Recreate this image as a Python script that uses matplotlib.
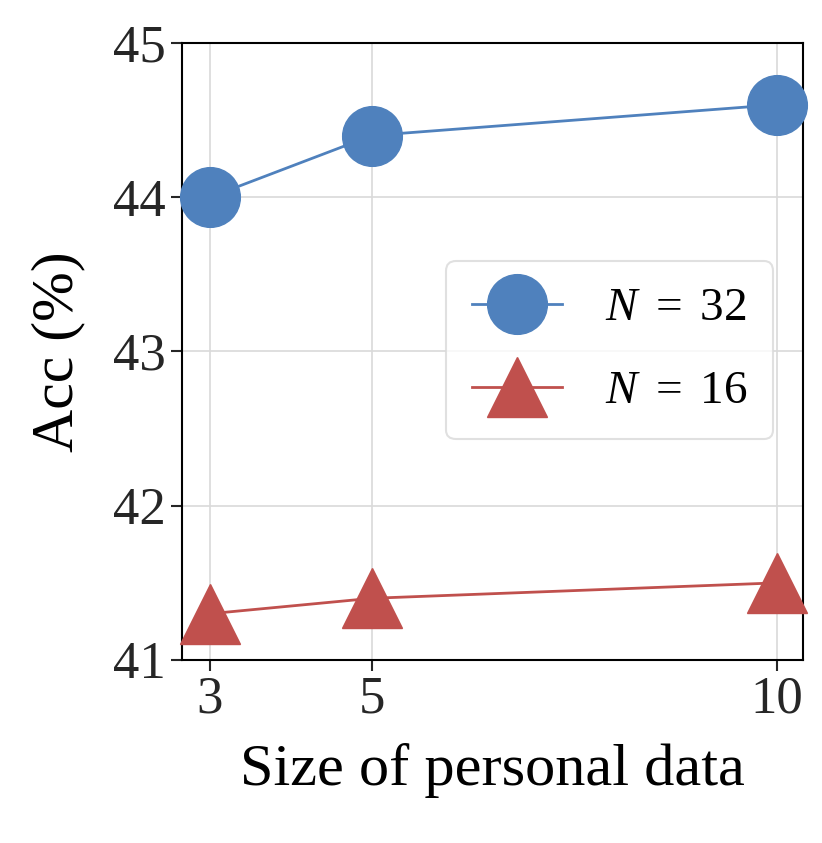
import matplotlib
matplotlib.use("Agg")
import matplotlib.pyplot as plt

# datos
tamanos = [3, 5, 10]
acc_n32 = [44.0, 44.4, 44.6]
acc_n16 = [41.3, 41.4, 41.5]
etiquetas = [r"$N\ =\ 32$", r"$N\ =\ 16$"]

plt.rcParams["font.family"] = ["Liberation Serif", "DejaVu Serif"]
plt.rcParams["mathtext.fontset"] = "custom"
plt.rcParams["mathtext.it"] = "Liberation Serif:italic"
plt.rcParams["mathtext.rm"] = "Liberation Serif"

fig = plt.figure(figsize=(8.22, 8.43), dpi=100)
ax = fig.add_axes([0.2214, 0.2171, 0.7555, 0.7319])

ax.plot(tamanos, acc_n32, color="#4f81bd", marker="o", markersize=43,
        linewidth=2, label=etiquetas[0], zorder=3, clip_on=False)
ax.plot(tamanos, acc_n16, color="#c0504d", marker="^", markersize=43,
        linewidth=2, label=etiquetas[1], zorder=3, clip_on=False)

ax.set_xlim(2.655, 10.32)
ax.set_ylim(41, 45)
ax.set_xticks(tamanos)
ax.set_yticks([41, 42, 43, 44, 45])
ax.grid(True, color="#d9d9d9", linewidth=1.2)
ax.set_axisbelow(True)

for s in ax.spines.values():
    s.set_color("black")
    s.set_linewidth(1.5)
ax.tick_params(axis="both", labelsize=38, length=8, width=1.5,
               colors="#262626")

ax.set_xlabel("Size of personal data", fontsize=43.5, labelpad=14)
ax.set_ylabel("Acc (%)", fontsize=43, labelpad=20)

leg = ax.legend(loc="center right", bbox_to_anchor=(0.952, 0.502),
                borderaxespad=0, fontsize=34, frameon=True, borderpad=0.55,
                labelspacing=0.85, handlelength=1.9, handletextpad=0.9,
                markerscale=1.0)
leg.get_frame().set_edgecolor("#d9d9d9")
leg.get_frame().set_linewidth(1.5)

fig.savefig("out.png", dpi=100)
